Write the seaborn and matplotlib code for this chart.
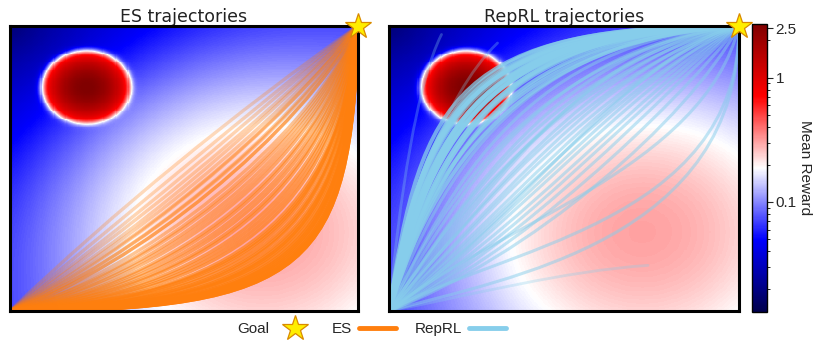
import numpy as np
import matplotlib
matplotlib.use("Agg")
import matplotlib.pyplot as plt
import seaborn as sns
from matplotlib.colors import LogNorm
from matplotlib.path import Path
from matplotlib.patches import PathPatch
from matplotlib.lines import Line2D
from matplotlib.transforms import Affine2D

# ---------------------------------------------------------------------------
# Reward landscape on the unit square
peak_center = [0.22, 0.785]     # sharp high-reward disc
peak_height = 2.7
peak_falloff = 0.10
peak_edge = 0.122
peak_edge_soft = 0.006
hill_center = [0.71, 0.29]      # broad low hill
hill_height = 0.25
hill_width = 0.335
floor_level = 0.015             # background rises away from the top-left corner
floor_slope = 0.04
reward_min, reward_max = 0.013, 2.718

start = [0.0, 0.0]
goal = [1.0, 1.0]

# ES trajectories: cubic Bezier control points (start -> c1 -> c2 -> goal)
es_c1x = [0.30, 0.31, 0.33, 0.32, 0.34, 0.33, 0.35, 0.34, 0.36, 0.35, 0.37, 0.36,
          0.38, 0.40, 0.41, 0.43, 0.45, 0.46, 0.48, 0.50, 0.51, 0.53, 0.55, 0.56,
          0.58, 0.60, 0.61, 0.63, 0.65, 0.66, 0.68, 0.69, 0.71, 0.72, 0.73, 0.75,
          0.76, 0.77, 0.78, 0.79, 0.80, 0.81, 0.82, 0.83, 0.84, 0.84, 0.85, 0.85,
          0.86, 0.86]
es_c1y = [0.35, 0.31, 0.29, 0.26, 0.24, 0.22, 0.21, 0.19, 0.18, 0.17, 0.16, 0.15,
          0.14, 0.13, 0.13, 0.12, 0.12, 0.11, 0.10, 0.10, 0.09, 0.09, 0.08, 0.08,
          0.07, 0.07, 0.06, 0.06, 0.05, 0.05, 0.05, 0.04, 0.04, 0.03, 0.03, 0.03,
          0.02, 0.02, 0.02, 0.02, 0.01, 0.01, 0.01, 0.01, 0.01, 0.00, 0.00, 0.00,
          0.00, 0.00]
es_c2x = [0.65, 0.68, 0.70, 0.72, 0.74, 0.76, 0.77, 0.79, 0.80, 0.82, 0.83, 0.84,
          0.86, 0.86, 0.87, 0.87, 0.88, 0.88, 0.89, 0.89, 0.90, 0.90, 0.91, 0.91,
          0.92, 0.92, 0.93, 0.93, 0.94, 0.94, 0.94, 0.94, 0.95, 0.95, 0.95, 0.96,
          0.96, 0.96, 0.96, 0.97, 0.97, 0.97, 0.97, 0.97, 0.98, 0.98, 0.98, 0.98,
          0.98, 0.98]
es_c2y = [0.70, 0.69, 0.68, 0.66, 0.67, 0.65, 0.64, 0.66, 0.63, 0.64, 0.62, 0.63,
          0.60, 0.58, 0.57, 0.55, 0.54, 0.52, 0.50, 0.49, 0.47, 0.45, 0.44, 0.42,
          0.40, 0.38, 0.37, 0.35, 0.33, 0.31, 0.31, 0.30, 0.29, 0.28, 0.27, 0.26,
          0.25, 0.24, 0.23, 0.22, 0.21, 0.20, 0.19, 0.18, 0.18, 0.17, 0.16, 0.16,
          0.15, 0.15]

# RepRL trajectories: dense bundle over the disc
rr_bundle_c1x = [0.10, 0.11, 0.09, 0.12, 0.10, 0.13, 0.11, 0.12, 0.14, 0.10, 0.13,
                 0.15, 0.12, 0.14, 0.16, 0.11, 0.13, 0.15, 0.17, 0.12, 0.14, 0.16,
                 0.13, 0.15]
rr_bundle_c1y = [0.72, 0.70, 0.76, 0.68, 0.74, 0.66, 0.73, 0.71, 0.67, 0.78, 0.69,
                 0.64, 0.75, 0.72, 0.66, 0.78, 0.74, 0.70, 0.63, 0.80, 0.76, 0.72,
                 0.62, 0.60]
rr_bundle_c2x = [0.22, 0.24, 0.20, 0.26, 0.25, 0.28, 0.23, 0.30, 0.27, 0.28, 0.32,
                 0.30, 0.33, 0.26, 0.34, 0.30, 0.35, 0.37, 0.36, 0.24, 0.38, 0.40,
                 0.42, 0.45]
rr_bundle_c2y = [1.00, 0.99, 1.00, 0.99, 1.00, 0.98, 0.98, 0.99, 1.00, 0.97, 0.98,
                 0.97, 0.99, 0.96, 0.98, 1.00, 0.97, 0.98, 0.96, 1.00, 0.99, 0.97,
                 0.95, 0.96]

# RepRL trajectories: wider spread across the middle of the field
rr_spread_c1x = [0.14, 0.16, 0.18, 0.20, 0.16, 0.22, 0.20, 0.24, 0.18, 0.25, 0.22,
                 0.28, 0.25, 0.30, 0.28, 0.32, 0.30, 0.35, 0.33, 0.38, 0.36, 0.40,
                 0.30, 0.35, 0.30, 0.26, 0.34]
rr_spread_c1y = [0.55, 0.50, 0.45, 0.42, 0.40, 0.40, 0.36, 0.38, 0.33, 0.34, 0.30,
                 0.33, 0.28, 0.30, 0.26, 0.27, 0.23, 0.25, 0.20, 0.22, 0.18, 0.19,
                 0.22, 0.12, 0.30, 0.36, 0.28]
rr_spread_c2x = [0.35, 0.38, 0.40, 0.45, 0.42, 0.50, 0.48, 0.55, 0.52, 0.58, 0.56,
                 0.62, 0.60, 0.66, 0.64, 0.70, 0.68, 0.74, 0.72, 0.78, 0.80, 0.85,
                 1.00, 1.00, 0.90, 0.55, 0.70]
rr_spread_c2y = [0.97, 0.96, 0.95, 0.93, 0.90, 0.94, 0.88, 0.92, 0.86, 0.90, 0.84,
                 0.88, 0.82, 0.86, 0.80, 0.84, 0.78, 0.80, 0.74, 0.76, 0.70, 0.66,
                 0.30, 0.25, 0.50, 0.95, 0.92]

# RepRL trajectories that stop short of the goal
rr_stray_c1x = [0.03, 0.05, 0.25]
rr_stray_c1y = [0.40, 0.35, 0.06]
rr_stray_c2x = [0.08, 0.15, 0.50]
rr_stray_c2y = [0.80, 0.75, 0.14]
rr_stray_endx = [0.15, 0.31, 0.74]
rr_stray_endy = [0.97, 0.94, 0.16]

ES_COLOR = "#ff7f0e"
RR_COLOR = "#87ceeb"
STAR_FACE = "#ffee00"
STAR_EDGE = "#d98a00"

# ---------------------------------------------------------------------------
N = 320
grid = (np.arange(N) + 0.5) / N
X, Y = np.meshgrid(grid, grid)
dist_tl = np.hypot(X, 1.0 - Y)
r_hill = np.hypot(X - hill_center[0], Y - hill_center[1])
r_peak = np.hypot(X - peak_center[0], Y - peak_center[1])
peak = (peak_height * np.exp(-(r_peak / peak_falloff) ** 2)
        / (1.0 + np.exp((r_peak - peak_edge) / peak_edge_soft)))
reward = (floor_level + floor_slope * dist_tl
          + hill_height * np.exp(-r_hill ** 2 / (2 * hill_width ** 2)) + peak)
reward = np.clip(reward, reward_min, reward_max)

sns.set_style("white")
plt.rcParams["font.family"] = ["DejaVu Sans"]
ARIAL = "Liberation Sans"

fig = plt.figure(figsize=(8.13, 3.41), dpi=100)
ax_es = fig.add_axes([0.0123, 0.088, 0.428, 0.836])
ax_rr = fig.add_axes([0.4785, 0.088, 0.4305, 0.836])
cax = fig.add_axes([0.925, 0.085, 0.0185, 0.845])

norm = LogNorm(vmin=reward_min, vmax=reward_max)


def draw_field(ax, with_cbar):
    sns.heatmap(reward, ax=ax, cmap="seismic", norm=norm,
                cbar=with_cbar, cbar_ax=cax if with_cbar else None,
                xticklabels=False, yticklabels=False, rasterized=True)
    ax.set_xlim(0, N)
    ax.set_ylim(0, N)
    for sp in ax.spines.values():
        sp.set_visible(True)
        sp.set_color("black")
        sp.set_linewidth(2.2)
        sp.set_zorder(5)
    return Affine2D().scale(N) + ax.transData


def bezier(ax, tr, c1, c2, end, color, lw, alpha):
    verts = [start, c1, c2, end]
    codes = [Path.MOVETO, Path.CURVE4, Path.CURVE4, Path.CURVE4]
    ax.add_patch(PathPatch(Path(verts, codes), facecolor="none", edgecolor=color,
                           lw=lw, alpha=alpha, transform=tr, zorder=3,
                           capstyle="round"))


def draw_goal(ax, tr):
    ax.plot([goal[0]], [goal[1]], marker="*", ms=19, mfc=STAR_FACE, mec=STAR_EDGE,
            mew=0.9, ls="none", transform=tr, clip_on=False, zorder=10)


# ES panel
tr = draw_field(ax_es, False)
n_es = len(es_c1x)
es_alpha = np.linspace(0.28, 0.95, n_es)
for i in range(n_es):
    bezier(ax_es, tr, (es_c1x[i], es_c1y[i]), (es_c2x[i], es_c2y[i]), goal,
           ES_COLOR, 2.4, es_alpha[i])
draw_goal(ax_es, tr)
ax_es.set_title("ES trajectories", fontsize=12.5, pad=3, color="#222222")

# RepRL panel
tr = draw_field(ax_rr, True)
for i in range(len(rr_stray_c1x)):
    bezier(ax_rr, tr, (rr_stray_c1x[i], rr_stray_c1y[i]),
           (rr_stray_c2x[i], rr_stray_c2y[i]),
           (rr_stray_endx[i], rr_stray_endy[i]), RR_COLOR, 2.0, 0.3)
for i in range(len(rr_spread_c1x)):
    bezier(ax_rr, tr, (rr_spread_c1x[i], rr_spread_c1y[i]),
           (rr_spread_c2x[i], rr_spread_c2y[i]), goal, RR_COLOR, 2.2, 0.5)
for i in range(len(rr_bundle_c1x)):
    bezier(ax_rr, tr, (rr_bundle_c1x[i], rr_bundle_c1y[i]),
           (rr_bundle_c2x[i], rr_bundle_c2y[i]), goal, RR_COLOR, 2.8, 0.75)
draw_goal(ax_rr, tr)
ax_rr.set_title("RepRL trajectories", fontsize=12.5, pad=3, color="#222222")

# Colorbar
cb = ax_rr.collections[0].colorbar
cb.outline.set_linewidth(1.0)
cb.outline.set_edgecolor("black")
cb.set_ticks([0.1, 1, 2.5])
cb.set_ticklabels(["0.1", "1", "2.5"])
cb.ax.tick_params(which="major", length=4, width=0.8, pad=2, labelsize=11)
cb.ax.tick_params(which="minor", length=2.5, width=0.7)
for t in cb.ax.get_yticklabels():
    t.set_fontfamily(ARIAL)
cb.ax.text(3.5, 0.5, "Mean Reward", rotation=270, ha="center", va="center",
           fontsize=11, family=ARIAL, transform=cb.ax.transAxes)

# Legend
handles = [
    Line2D([], [], marker="*", ls="none", ms=19, mfc=STAR_FACE, mec=STAR_EDGE, mew=0.9),
    Line2D([], [], color=ES_COLOR, lw=3.5),
    Line2D([], [], color=RR_COLOR, lw=3.5),
]
fig.legend(handles, ["Goal", "ES", "RepRL"], loc="center", ncol=3,
           bbox_to_anchor=(0.457, 0.035), frameon=False, markerfirst=False,
           handlelength=2.4, handletextpad=0.5, columnspacing=1.2,
           prop={"family": ARIAL, "size": 11})

fig.savefig("out.png", dpi=100)
